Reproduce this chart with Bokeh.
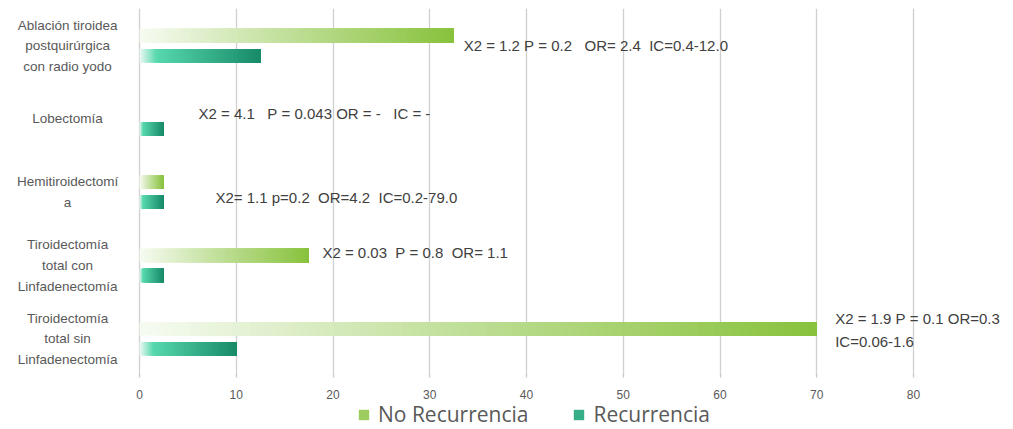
from bokeh.plotting import figure
from bokeh.layouts import column
from bokeh.models import ColumnDataSource, FixedTicker, Legend, LegendItem, Range1d
from bokeh.embed import file_html
from bokeh.resources import INLINE
from bokeh.core.properties import value

# ---------------- data ----------------
categories = [
    "Ablación tiroidea\npostquirúrgica\ncon radio yodo",
    "Lobectomía",
    "Hemitiroidectomí\na",
    "Tiroidectomía\ntotal con\nLinfadenectomía",
    "Tiroidectomía\ntotal sin\nLinfadenectomía",
]
no_recurrencia = [32.5, 0, 2.5, 17.5, 70]
recurrencia = [12.5, 2.5, 2.5, 2.5, 10]
NB = "\u00a0"
stats_text = [
    "X2 = 1.2 P = 0.2   OR= 2.4  IC=0.4-12.0",
    "X2 = 4.1   P = 0.043 OR = -   IC = -",
    "X2= 1.1 p=0.2  OR=4.2  IC=0.2-79.0",
    "X2 = 0.03  P = 0.8  OR= 1.1",
    "X2 = 1.9 P = 0.1 OR=0.3\nIC=0.06-1.6",
]
series_names = ["No Recurrencia", "Recurrencia"]
x_ticks = [0, 10, 20, 30, 40, 50, 60, 70, 80]

# ---------------- layout / style ----------------
stat_x = [33.5, 6.1, 7.85, 18.9, 71.9]
stat_dy = [0.0, 0.08, -0.075, 0.18, 0.12]
label_x = -7.44
bar_h = 0.185
bar_off = 0.137
N_SLICES = 80

green_stops = [(0.0, "#f7fbf2"), (0.45, "#c2e09c"), (1.0, "#88c23c")]
teal_stops = [(0.0, "#eefaf5"), (0.14, "#57d8ad"), (1.0, "#188a68")]


def hex2rgb(h):
    h = h.lstrip("#")
    return tuple(int(h[i:i + 2], 16) for i in (0, 2, 4))


def grad(stops, t):
    for (t0, c0), (t1, c1) in zip(stops[:-1], stops[1:]):
        if t <= t1:
            f = 0 if t1 == t0 else (t - t0) / (t1 - t0)
            a, b = hex2rgb(c0), hex2rgb(c1)
            return "#%02x%02x%02x" % tuple(int(round(a[i] + (b[i] - a[i]) * f)) for i in range(3))
    return stops[-1][1]


n = len(categories)
ys = [n - 1 - i for i in range(n)]


def slices(vals, offset, stops):
    d = dict(left=[], right=[], y=[], color=[])
    for i, v in enumerate(vals):
        if v <= 0:
            continue
        for k in range(N_SLICES):
            d["left"].append(v * k / N_SLICES)
            d["right"].append(v)
            d["y"].append(ys[i] + offset)
            d["color"].append(grad(stops, (k + 0.5) / N_SLICES))
    return ColumnDataSource(d)


p = figure(
    width=1012, height=401,
    x_range=Range1d(-14.37, 90.23), y_range=Range1d(-0.46, 4.507),
    output_backend="svg", toolbar_location=None,
    y_axis_location=None,
    min_border_left=0, min_border_right=0, min_border_top=8, min_border_bottom=0,
)
p.outline_line_color = None
p.background_fill_color = "white"
p.border_fill_color = "white"

p.xgrid.ticker = FixedTicker(ticks=x_ticks)
p.xgrid.grid_line_color = "#d0d0d0"
p.xgrid.grid_line_width = 1.3
p.ygrid.grid_line_color = None

ax = p.xaxis[0]
ax.ticker = FixedTicker(ticks=x_ticks)
ax.axis_line_color = None
ax.major_tick_out = 5
ax.major_tick_in = 0
ax.minor_tick_line_color = None
ax.major_tick_line_color = "#c8c8c8"
ax.major_tick_line_width = 1.3
ax.major_label_text_font_size = "12px"
ax.major_label_text_color = "#595959"
ax.major_label_text_font = "Liberation Sans"
ax.major_label_standoff = 12

src_no = slices(no_recurrencia, bar_off, green_stops)
src_re = slices(recurrencia, -bar_off, teal_stops)
p.hbar(y="y", left="left", right="right", height=bar_h, fill_color="color",
       line_color=None, source=src_no)
p.hbar(y="y", left="left", right="right", height=bar_h, fill_color="color",
       line_color=None, source=src_re)

# category labels
p.text(x=[label_x] * n, y=ys, text=categories, text_align="center", text_baseline="middle",
       text_font=value("Liberation Sans"), text_font_size="13.5px", text_color="#595959",
       text_line_height=1.37)

# statistics annotations (non-breaking spaces keep the original spacing)
p.text(x=stat_x, y=[ys[i] + stat_dy[i] for i in range(n)],
       text=[s.replace(" ", NB) for s in stats_text],
       text_align="left", text_baseline="middle",
       text_font=value("Liberation Sans"), text_font_size="15px", text_color="#404040",
       text_line_height=1.33)

# ---------------- legend strip ----------------
lg = figure(
    width=1012, height=27, x_range=Range1d(0, 1), y_range=Range1d(0, 1),
    output_backend="svg", toolbar_location=None,
    x_axis_location=None, y_axis_location=None,
    min_border_left=0, min_border_right=0, min_border_top=0, min_border_bottom=0,
)
lg.outline_line_color = None
lg.grid.visible = False
# key glyphs (their single point lies outside the strip's visible range)
k_no = lg.hbar(y=[-5], left=[0], right=[1], height=0.5, fill_color=grad(green_stops, 0.8), line_color=None)
k_re = lg.hbar(y=[-5], left=[0], right=[1], height=0.5, fill_color=grad(teal_stops, 0.6), line_color=None)
legend = Legend(
    items=[LegendItem(label=series_names[0], renderers=[k_no]),
           LegendItem(label=series_names[1], renderers=[k_re])],
    orientation="horizontal", location=(357, 0),
    label_text_font="Open Sans", label_text_font_size="21px", label_text_color="#595959",
    label_height=20, glyph_width=13, glyph_height=13, label_standoff=8, spacing=44,
    padding=0, margin=0, border_line_color=None, background_fill_alpha=0,
)
lg.add_layout(legend, "center")

open("out.html", "w").write(file_html(column(p, lg, spacing=0), INLINE))
